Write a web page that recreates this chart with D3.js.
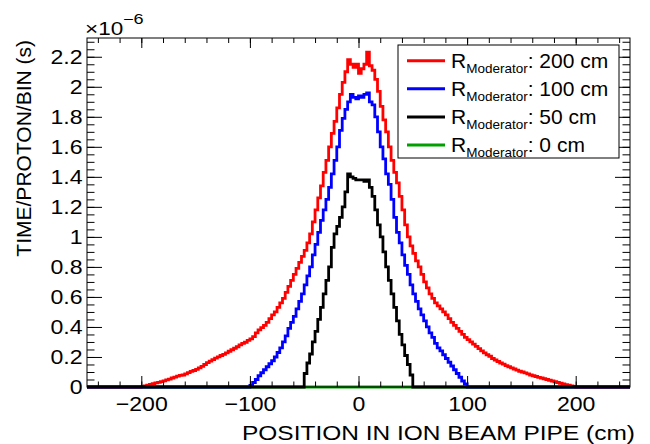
<!DOCTYPE html>
<html>
<head>
<meta charset="utf-8">
<script src="https://cdn.jsdelivr.net/npm/d3@7"></script>
<style>
  body { margin: 0; background: #fff; }
  svg text { font-family: "Liberation Sans", Arial, sans-serif; }
</style>
</head>
<body>
<div id="container"></div>
<script>
// histogram contents (units of 1e-6 s), 2.5 cm bins
const binWidth = 2.5;

const redStart = -200;
const redValues = [
  0.003, 0.008, 0.012, 0.017, 0.022, 0.027, 0.031, 0.036, 0.041, 0.047,
  0.053, 0.06, 0.066, 0.072, 0.077, 0.08, 0.088, 0.096, 0.104, 0.11,
  0.118, 0.128, 0.138, 0.15, 0.162, 0.172, 0.182, 0.192, 0.201, 0.21,
  0.218, 0.228, 0.238, 0.248, 0.258, 0.268, 0.28, 0.29, 0.298, 0.31,
  0.32, 0.335, 0.36, 0.38, 0.395, 0.41, 0.43, 0.455, 0.48, 0.5,
  0.53, 0.56, 0.59, 0.63, 0.67, 0.71, 0.75, 0.79, 0.83, 0.87,
  0.91, 0.96, 1.02, 1.1, 1.18, 1.26, 1.34, 1.43, 1.51, 1.6,
  1.69, 1.77, 1.86, 1.95, 2.03, 2.1, 2.18, 2.15, 2.13, 2.15,
  2.09, 2.12, 2.15, 2.23, 2.14, 2.11, 2.05, 1.97, 1.87, 1.78,
  1.7, 1.6, 1.51, 1.43, 1.36, 1.27, 1.18, 1.08, 1.0, 0.94,
  0.89, 0.84, 0.8, 0.75, 0.7, 0.66, 0.62, 0.59, 0.56, 0.54,
  0.52, 0.5, 0.48, 0.455, 0.43, 0.41, 0.39, 0.37, 0.35, 0.33,
  0.315, 0.3, 0.285, 0.27, 0.255, 0.24, 0.228, 0.215, 0.205, 0.19,
  0.18, 0.17, 0.16, 0.152, 0.143, 0.135, 0.127, 0.12, 0.112, 0.105,
  0.1, 0.094, 0.087, 0.08, 0.075, 0.07, 0.064, 0.06, 0.055, 0.05,
  0.045, 0.04, 0.035, 0.03, 0.025, 0.02, 0.016, 0.012, 0.008, 0.004
];

const blueStart = -100;
const blueValues = [
  0.01, 0.03, 0.05, 0.075, 0.095, 0.115, 0.135, 0.155, 0.175, 0.2,
  0.23, 0.26, 0.3, 0.34, 0.39, 0.43, 0.47, 0.52, 0.57, 0.62,
  0.68, 0.74, 0.8, 0.88, 0.95, 1.03, 1.11, 1.18, 1.25, 1.33,
  1.42, 1.51, 1.6, 1.71, 1.79, 1.85, 1.9, 1.95, 1.93, 1.92,
  1.94, 1.93, 1.95, 1.96, 1.9, 1.88, 1.8, 1.7, 1.6, 1.52,
  1.42, 1.35, 1.25, 1.13, 1.03, 0.96, 0.88, 0.81, 0.75, 0.68,
  0.62, 0.57, 0.52, 0.48, 0.44, 0.4, 0.36, 0.33, 0.29, 0.26,
  0.24, 0.215, 0.19, 0.165, 0.14, 0.115, 0.09, 0.065, 0.04, 0.02
];

const blackStart = -50;
const blackValues = [
  0.09, 0.16, 0.22, 0.3, 0.37, 0.45, 0.53, 0.62, 0.71, 0.8,
  0.93, 1.02, 1.07, 1.13, 1.2, 1.3, 1.42, 1.4, 1.39, 1.38,
  1.38, 1.38, 1.37, 1.38, 1.33, 1.27, 1.18, 1.08, 1.0, 0.9,
  0.8, 0.71, 0.62, 0.53, 0.44, 0.35, 0.28, 0.21, 0.15, 0.08
];

// R = 0 cm gives an empty histogram
const greenStart = -250;
const greenValues = [0];
const greenWidth = 500;

const legendLabels = ["200 cm", "100 cm", "50 cm", "0 cm"];
const legendColors = ["#ff0000", "#0000ff", "#000000", "#00a000"];

const xTicks = [-200, -100, 0, 100, 200];
const yTicks = [0, 0.2, 0.4, 0.6, 0.8, 1, 1.2, 1.4, 1.6, 1.8, 2, 2.2];

// Set up
const width = 650, height = 444;
const margin = { left: 87, right: 20, top: 38, bottom: 57 };

const svg = d3.select("#container").append("svg")
  .attr("width", width).attr("height", height);

const x = d3.scaleLinear().domain([-250, 250]).range([margin.left, width - margin.right]);
const y = d3.scaleLinear().domain([0, 2.325]).range([height - margin.bottom, margin.top]);

// step outline of a histogram, zero outside its bins
function stepPoints(start, values, w) {
  const pts = [[-250, 0], [start, 0]];
  values.forEach((v, i) => {
    pts.push([start + i * w, v]);
    pts.push([start + (i + 1) * w, v]);
  });
  pts.push([start + values.length * w, 0]);
  pts.push([250, 0]);
  return pts;
}

const line = d3.line().x(d => x(d[0])).y(d => y(d[1]));

const hists = [
  { start: greenStart, values: greenValues, w: greenWidth, color: legendColors[3] },
  { start: redStart, values: redValues, w: binWidth, color: legendColors[0] },
  { start: blueStart, values: blueValues, w: binWidth, color: legendColors[1] },
  { start: blackStart, values: blackValues, w: binWidth, color: legendColors[2] }
];

svg.append("g").selectAll("path")
  .data(hists)
  .enter()
  .append("path")
  .attr("d", d => line(stepPoints(d.start, d.values, d.w)))
  .attr("fill", "none")
  .attr("stroke", d => d.color)
  .attr("stroke-width", 2.8);

// Axes (ROOT style ticks pointing inwards)
const xMinor = d3.range(-240, 250, 20);
const yMinor = d3.range(0, 2.33, 0.05);

function styleAxis(g) {
  g.select(".domain").remove();
  g.selectAll("line").attr("stroke", "#000");
}

svg.append("g").attr("transform", `translate(0,${y(0)})`)
  .call(d3.axisBottom(x).tickValues(xMinor).tickSize(-5.5).tickFormat(""))
  .call(styleAxis);
const xAxis = svg.append("g").attr("transform", `translate(0,${y(0)})`)
  .call(d3.axisBottom(x).tickValues(xTicks).tickSize(-11).tickPadding(9))
  .call(styleAxis);

svg.append("g").attr("transform", `translate(0,${margin.top})`)
  .call(d3.axisTop(x).tickValues(xMinor).tickSize(-5).tickFormat(""))
  .call(styleAxis);
svg.append("g").attr("transform", `translate(0,${margin.top})`)
  .call(d3.axisTop(x).tickValues(xTicks).tickSize(-10).tickFormat(""))
  .call(styleAxis);

svg.append("g").attr("transform", `translate(${margin.left},0)`)
  .call(d3.axisLeft(y).tickValues(yMinor).tickSize(-7.5).tickFormat(""))
  .call(styleAxis);
const yAxis = svg.append("g").attr("transform", `translate(${margin.left},0)`)
  .call(d3.axisLeft(y).tickValues(yTicks).tickSize(-15).tickPadding(4)
    .tickFormat(d => String(+d.toFixed(1))))
  .call(styleAxis);

svg.append("g").attr("transform", `translate(${width - margin.right},0)`)
  .call(d3.axisRight(y).tickValues(yMinor).tickSize(-7.5).tickFormat(""))
  .call(styleAxis);
svg.append("g").attr("transform", `translate(${width - margin.right},0)`)
  .call(d3.axisRight(y).tickValues(yTicks).tickSize(-15).tickFormat(""))
  .call(styleAxis);

[xAxis, yAxis].forEach(a => a.selectAll("text")
  .attr("font-size", 21)
  .attr("font-family", "Liberation Sans, Arial, sans-serif")
  .attr("fill", "#000")
  .attr("transform", "scale(1.1,1)"));

// frame
svg.append("rect")
  .attr("x", margin.left).attr("y", margin.top)
  .attr("width", width - margin.left - margin.right)
  .attr("height", height - margin.top - margin.bottom)
  .attr("fill", "none").attr("stroke", "#000").attr("stroke-width", 1);

// exponent
svg.append("text")
  .attr("transform", `translate(${margin.left - 2},35) scale(1.25,1)`)
  .attr("font-size", 18)
  .text("×10");
svg.append("text")
  .attr("transform", `translate(${margin.left + 36},23.5) scale(1.25,1)`)
  .attr("font-size", 14.5)
  .text("−6");

// axis titles
svg.append("text")
  .attr("x", 242).attr("y", 440)
  .attr("font-size", 21)
  .attr("textLength", 393).attr("lengthAdjust", "spacingAndGlyphs")
  .text("POSITION IN ION BEAM PIPE (cm)");

svg.append("text")
  .attr("transform", "translate(31,40) rotate(-90)")
  .attr("text-anchor", "end")
  .attr("font-size", 21)
  .text("TIME/PROTON/BIN (s)");

// Legend
const legend = svg.append("g");
legend.append("rect")
  .attr("x", 398).attr("y", 45).attr("width", 221).attr("height", 113)
  .attr("fill", "#fff").attr("stroke", "#000").attr("stroke-width", 1);

const rows = legend.selectAll("g.row")
  .data(legendLabels)
  .enter()
  .append("g")
  .classed("row", true)
  .attr("transform", (d, i) => `translate(0,${60.7 + i * 28.1})`);

rows.append("line")
  .attr("x1", 407).attr("x2", 445)
  .attr("stroke", (d, i) => legendColors[i])
  .attr("stroke-width", 3);

const lt = rows.append("text").attr("x", 451).attr("y", 7).attr("font-size", 21);
lt.append("tspan").text("R");
lt.append("tspan").attr("font-size", 13.5).attr("dy", 5).text("Moderator");
lt.append("tspan").attr("dy", -5).text(d => ": " + d);
</script>
</body>
</html>
